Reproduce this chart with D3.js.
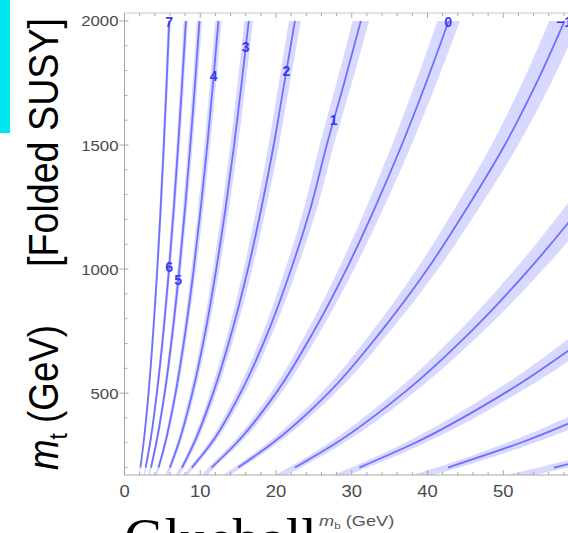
<!DOCTYPE html>
<html><head><meta charset="utf-8">
<script src="https://cdn.jsdelivr.net/npm/d3@7"></script>
<style>html,body{margin:0;padding:0;background:#fff;overflow:hidden}</style>
</head><body>
<svg id="chart" width="568" height="533" xmlns="http://www.w3.org/2000/svg"></svg>
<script>
// m_t levels (GeV) at which each contour's m_b (GeV) was read
const mtLevels = [170, 200, 300, 500, 750, 1000, 1250, 1500, 1750, 2000];
const contourNames = ["7","6","5","4","3","2","1","0","-1","-2","-3","-4","-5"];
const c7  = [1.95, 2.1, 2.52, 3.17, 3.80, 4.33, 4.78, 5.19, 5.56, 5.9];
const c6  = [2.6, 2.8, 3.38, 4.27, 5.15, 5.88, 6.52, 7.09, 7.61, 8.1];
const c5  = [3.25, 3.5, 4.2, 5.3, 6.36, 7.24, 8.01, 8.69, 9.32, 9.9];
const c4  = [4.19, 4.5, 5.38, 6.74, 8.05, 9.14, 10.08, 10.93, 11.69, 12.4];
const c3  = [5.59, 6.0, 7.16, 8.95, 10.69, 12.11, 13.36, 14.47, 15.47, 16.4];
const c2  = [7.0, 7.6, 9.2, 11.7, 14.2, 16.3, 18.1, 19.7, 21.1, 22.5];
const c1  = [8.1, 8.9, 11.5, 15.3, 19.0, 22.0, 24.6, 26.7, 29.0, 31.2];
const c0  = [10.6, 11.5, 14.8, 20.0, 25.0, 29.3, 33.1, 36.6, 39.8, 42.8];
const cm1 = [13.5, 15.0, 19.6, 26.9, 33.9, 40.0, 45.3, 50.2, 54.4, 58.1];
const cm2 = [20.6, 22.5, 27.99, 36.83, 45.79, 53.44, 60.26, 66.47, 72.2, 77.6];
const cm3 = [28.46, 31.0, 38.38, 50.19, 62.12, 72.3, 81.3, 89.5, 97.0, 104.0];
const cm4 = [39.37, 42.7, 52.3, 67.5, 82.7, 95.5, 106.8, 116.9, 126.3, 135.0];
const cm5 = [52.3, 56.7, 69.4, 89.6, 109.8, 126.8, 141.8, 155.3, 167.7, 179.3];
const contours = [c7, c6, c5, c4, c3, c2, c1, c0, cm1, cm2, cm3, cm4, cm5];
// m_t where each contour label sits (null = no label visible)
const labelMt = [1995, 1010, 955, 1780, 1895, 1800, 1600, 1995, 1995, null, null, null, null];
const bandRel = 0.035; // relative half-width of the shaded band in m_b

const xTicks = [0, 10, 20, 30, 40, 50];
const yTicks = [500, 1000, 1500, 2000];

const svg = d3.select("#chart");
const x = d3.scaleLinear().domain([0, 60]).range([124.5, 579]);
const y = d3.scaleLinear().domain([170, 2032]).range([475, 13]);

// cyan bar at top-left
svg.append("rect").attr("x", 0).attr("y", 0).attr("width", 10).attr("height", 133).attr("fill", "#00e6f0");

svg.append("clipPath").attr("id", "plotclip")
  .append("rect").attr("x", x(0)).attr("y", y(2032)).attr("width", x(60) - x(0)).attr("height", y(170) - y(2032));

const plot = svg.append("g").attr("clip-path", "url(#plotclip)");

const band = d3.area()
  .y(d => y(d.mt)).x0(d => x(d.mb * (1 - bandRel))).x1(d => x(d.mb * (1 + bandRel)))
  .curve(d3.curveMonotoneY);
const line = d3.line().y(d => y(d.mt)).x(d => x(d.mb)).curve(d3.curveMonotoneY);

contours.forEach((c, i) => {
  const pts = mtLevels.map((mt, j) => ({mt: mt, mb: c[j]}));
  plot.append("path").attr("d", band(pts)).attr("fill", "#d9d9ff").attr("stroke", "none");
});
contours.forEach((c, i) => {
  const pts = mtLevels.map((mt, j) => ({mt: mt, mb: c[j]})).filter(d => d.mt >= 200);
  plot.append("path").attr("d", line(pts)).attr("fill", "none")
    .attr("stroke", "#6363ff").attr("stroke-width", 1.8).attr("stroke-opacity", 0.9);
});

// contour labels
contours.forEach((c, i) => {
  if (labelMt[i] == null) return;
  const interp = d3.scaleLinear().domain(mtLevels).range(c);
  const mb = interp(labelMt[i]);
  plot.append("text").attr("x", x(mb)).attr("y", y(labelMt[i]) + 5)
    .attr("text-anchor", "middle")
    .attr("font-family", "Liberation Sans, Arial, sans-serif").attr("font-size", 14).attr("font-weight", "bold")
    .attr("fill", "#3a3af0")
    .text(contourNames[i].replace("-", "\u2212"));
});

// frame
const frame = svg.append("g").attr("stroke", "#a8a8a8").attr("stroke-width", 1).attr("fill", "none");
frame.append("line").attr("x1", x(0)).attr("x2", x(0)).attr("y1", y(2032)).attr("y2", y(170));
frame.append("line").attr("x1", x(0)).attr("x2", 568).attr("y1", y(170)).attr("y2", y(170));
frame.append("line").attr("x1", x(0)).attr("x2", 568).attr("y1", y(2032)).attr("y2", y(2032)).attr("stroke", "#c8c8c8");

// ticks
const minorX = d3.range(0, 60, 2);
const minorY = d3.range(200, 2001, 100);
minorX.forEach(v => {
  const major = v % 10 === 0;
  const len = major ? 5 : 3;
  frame.append("line").attr("x1", x(v)).attr("x2", x(v)).attr("y1", y(170)).attr("y2", y(170) - len);
  frame.append("line").attr("x1", x(v)).attr("x2", x(v)).attr("y1", y(2032)).attr("y2", y(2032) + len);
});
minorY.forEach(v => {
  const major = v % 500 === 0;
  frame.append("line").attr("x1", x(0) - (major ? 5 : 0)).attr("x2", x(0) + (major ? 4 : 3)).attr("y1", y(v)).attr("y2", y(v));
});

const tickFont = "Liberation Sans, Arial, sans-serif";
xTicks.forEach(v => {
  svg.append("text").attr("transform", `translate(${x(v)},${y(170) + 22}) scale(1.15,1)`)
    .attr("text-anchor", "middle").attr("font-family", tickFont).attr("font-size", 16)
    .attr("fill", "#4a4a4a").text(v);
});
yTicks.forEach(v => {
  svg.append("text").attr("transform", `translate(${x(0) - 6},${y(v) + 5.5}) scale(1.12,1)`)
    .attr("text-anchor", "end").attr("font-family", tickFont).attr("font-size", 15)
    .attr("fill", "#4a4a4a").text(v);
});

// x axis label
const xl = svg.append("text").attr("transform", "translate(319,526) scale(1.3,1)")
  .attr("font-family", tickFont).attr("font-size", 14).attr("fill", "#555");
xl.append("tspan").attr("font-style", "italic").text("m");
xl.append("tspan").attr("font-size", 9).attr("dy", 3).text("b");
xl.append("tspan").attr("dy", -3).text(" (GeV)");

// y axis title (rotated)
const yt1 = svg.append("text").attr("transform", "translate(58,470) rotate(-90)")
  .attr("font-family", tickFont).attr("font-size", 42).attr("fill", "#000")
  .attr("textLength", 145).attr("lengthAdjust", "spacingAndGlyphs");
yt1.append("tspan").attr("font-style", "italic").text("m");
yt1.append("tspan").attr("font-size", 26).attr("dy", 9).text("t");
yt1.append("tspan").attr("dy", -9).text(" (GeV)");
svg.append("text").attr("transform", "translate(58,267) rotate(-90)")
  .attr("font-family", tickFont).attr("font-size", 42).attr("fill", "#000")
  .attr("textLength", 249).attr("lengthAdjust", "spacingAndGlyphs")
  .text("[Folded SUSY]");

// partially visible caption at bottom
svg.append("text").attr("x", 124).attr("y", 558)
  .attr("font-family", "Liberation Serif, Times New Roman, serif").attr("font-size", 56).attr("fill", "#000")
  .text("Glueball");
</script>
</body></html>
